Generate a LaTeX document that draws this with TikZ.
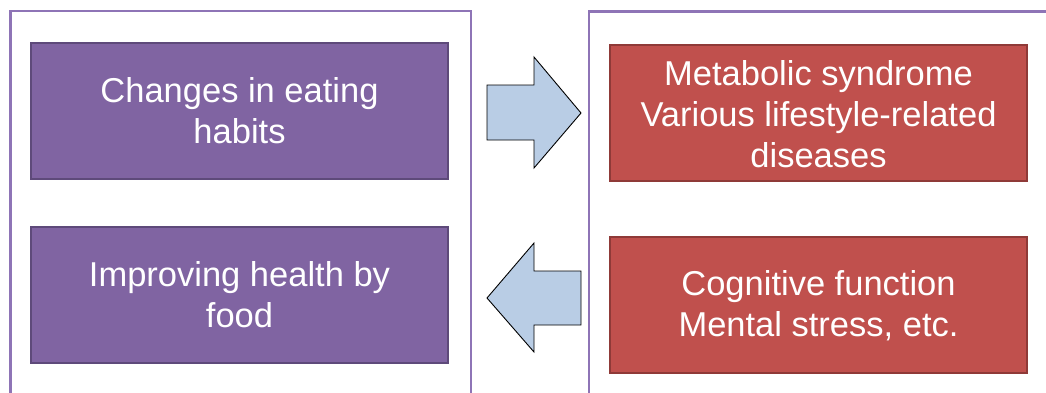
\documentclass[tikz,border=0pt]{standalone}
\usepackage{fontspec}
\setmainfont{Liberation Sans}
\definecolor{outerc}{HTML}{8E74B6}
\definecolor{purfill}{HTML}{8064A2}
\definecolor{purline}{HTML}{5E4A7A}
\definecolor{redfill}{HTML}{C0504D}
\definecolor{redline}{HTML}{8F3A38}
\definecolor{arrfill}{HTML}{B9CDE5}
\tikzset{
  outerbox/.style={draw=outerc, line width=2.8pt},
  purbox/.style={draw=purline, fill=purfill, line width=2.6pt},
  redbox/.style={draw=redline, fill=redfill, line width=2.6pt},
  boxtext/.style={text=white, align=center, font=\fontsize{34.5pt}{41pt}\selectfont},
  blockarrow/.style={draw=black, fill=arrfill, line width=0.9pt, line join=miter}
}
\begin{document}
\begin{tikzpicture}[x=1pt,y=-1pt]
\useasboundingbox (0,0) rectangle (1046,392);
% outer boxes
\draw[outerbox] (10.5,400) -- (10.5,11) -- (471,11) -- (471,400);
\draw[outerbox] (589,400) -- (589,11.5) -- (1060,11.5);
% inner boxes
\draw[purbox] (31,43) rectangle (448,179);
\draw[purbox] (31,227) rectangle (448,363);
\draw[redbox] (610,45) rectangle (1027,181);
\draw[redbox] (610,237) rectangle (1027,373);
% texts
\node[boxtext] (t1) at (239.5,111) {Changes in eating\\habits};
\node[boxtext] (t2) at (239.5,295) {Improving health by\\food};
\node[boxtext] (t3) at (818.5,114) {Metabolic syndrome\\Various lifestyle-related\\diseases};
\node[boxtext] (t4) at (818.5,306) {Cognitive function\\Mental stress, etc.};
% block arrows
\draw[blockarrow] (487,85) -- (534,85) -- (534,57) -- (581,113) -- (534,168) -- (534,140) -- (487,140) -- cycle;
\draw[blockarrow] (581,271) -- (534,271) -- (534,243) -- (487,298) -- (534,352) -- (534,325) -- (581,325) -- cycle;
\end{tikzpicture}
\end{document}
